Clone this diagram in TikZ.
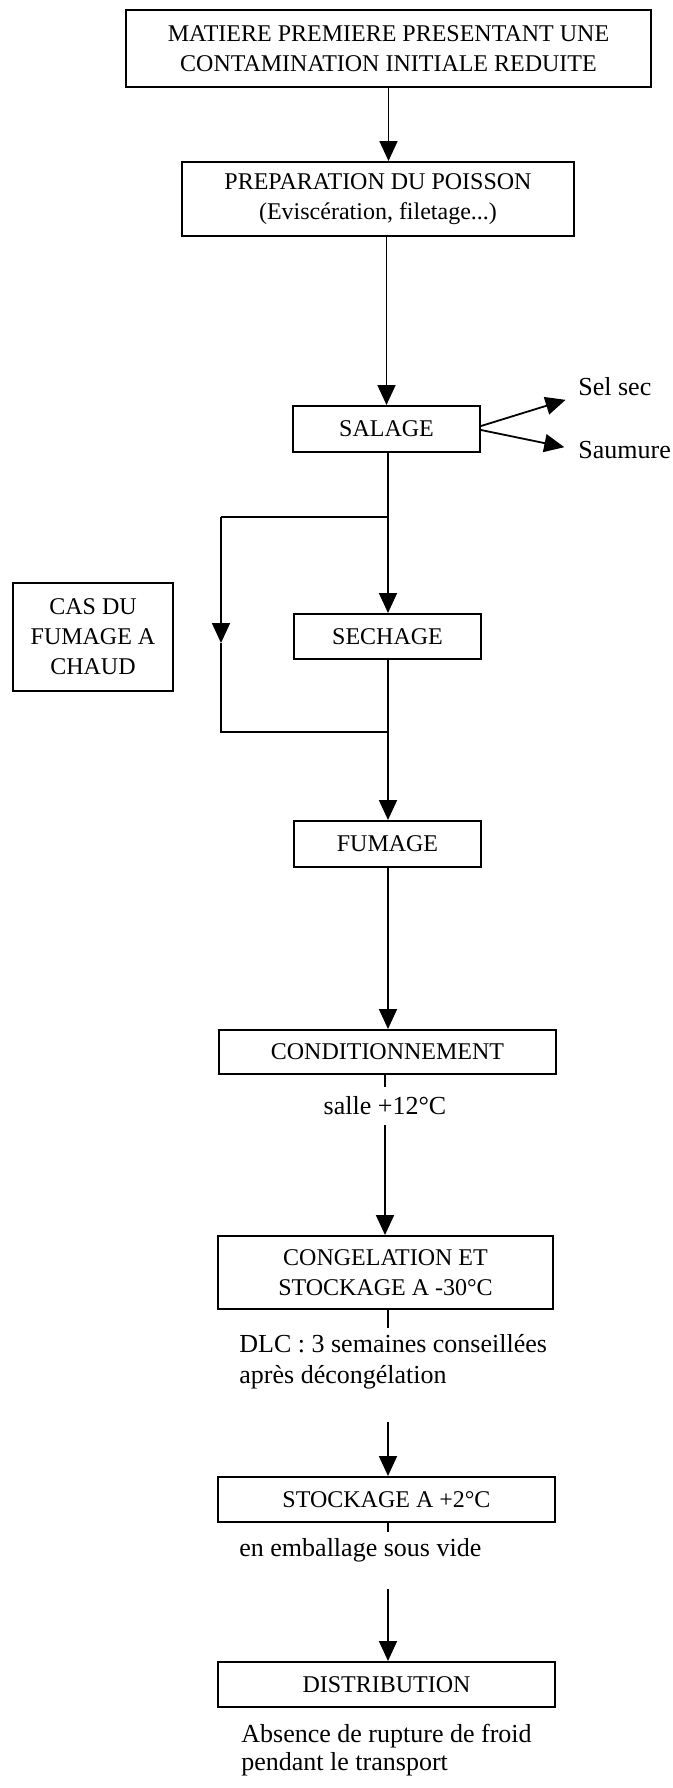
\documentclass[tikz,border=0pt]{standalone}
\usepackage{fontspec}
\setmainfont{Liberation Serif}
\usetikzlibrary{arrows.meta}
\begin{document}
\begin{tikzpicture}[x=0.5pt,y=-0.5pt,
  stepbox/.style={draw,line width=1pt,inner sep=0pt,align=center,
    font=\fontsize{12}{15}\selectfont},
  note/.style={inner sep=0pt,align=left,font=\fontsize{13}{15.5}\selectfont},
  link/.style={line width=0.9pt},
  arr/.style={link,-{Triangle[length=10pt,width=9pt]}}]
\useasboundingbox (0,0) rectangle (673,1788);

% process steps
\node[stepbox,minimum width=262.5pt,minimum height=38.5pt] (b1) at (388.5,48.5)
  {MATIERE PREMIERE PRESENTANT UNE\\CONTAMINATION INITIALE REDUITE};
\node[stepbox,minimum width=196pt,minimum height=37pt] (b2) at (378,199)
  {PREPARATION DU POISSON\\(Eviscération, filetage...)};
\node[stepbox,minimum width=93.5pt,minimum height=23pt] (sal) at (386.5,429) {SALAGE};
\node[stepbox,minimum width=93.5pt,minimum height=22.5pt] (sec) at (387.5,636.5) {SECHAGE};
\node[stepbox,minimum width=80pt,minimum height=54pt] (cas) at (93,637)
  {CAS DU\\FUMAGE A\\CHAUD};
\node[stepbox,minimum width=93.5pt,minimum height=23pt] (fum) at (387.5,844) {FUMAGE};
\node[stepbox,minimum width=168.5pt,minimum height=22pt] (cond) at (387.5,1052) {CONDITIONNEMENT};
\node[stepbox,minimum width=167.5pt,minimum height=36.5pt] (cong) at (385.5,1272.5)
  {CONGELATION ET\\STOCKAGE A -30°C};
\node[stepbox,minimum width=168.5pt,minimum height=22.5pt] (stk) at (386.5,1499.5) {STOCKAGE A +2°C};
\node[stepbox,minimum width=168.5pt,minimum height=22.5pt] (dist) at (386.5,1684.5) {DISTRIBUTION};

% salting variants
\node[note,anchor=west] (selsec) at (578,387) {Sel sec};
\node[note,anchor=west] (saum) at (578,450) {Saumure};

% notes under the steps
\node[note,minimum height=19pt] (salle) at (385,1106) {salle +12°C};
\node[note,anchor=west] (dlc) at (239,1361.5) {DLC : 3 semaines conseillées\\après décongélation};
\node[note,anchor=west] (emb) at (239,1550) {en emballage sous vide};
\node[note,anchor=west,font=\fontsize{13}{14}\selectfont] (abs) at (241,1750)
  {Absence de rupture de froid\\pendant le transport};

% junction points of the hot-smoking bypass and note gaps
\coordinate (brTop) at (388,517);
\coordinate (brBot) at (388,732);
\coordinate (lt) at (221,517);
\coordinate (lm) at (221,643);
\coordinate (lb) at (221,732);
\coordinate (dlcTop) at (388,1328);
\coordinate (dlcBot) at (388,1422);
\coordinate (embTop) at (388,1532);
\coordinate (embBot) at (388,1589);

% main flow
\draw[arr] (b1.south) -- (b1.south |- b2.north);
\draw[arr] (sal.north |- b2.south) -- (sal.north);
\draw[arr,shorten >=6.5pt] ([yshift=1.5pt]sal.east) -- ([yshift=-4.5pt]selsec.west);
\draw[arr,shorten >=7pt] ([yshift=-0.5pt]sal.east) -- (saum.west);
\draw[arr] (sal.south -| brTop) -- (sec.north -| brTop);
\draw[arr] (sec.south -| brBot) -- (fum.north -| brBot);
\draw[arr] (fum.south -| brBot) -- (cond.north -| brBot);
\draw[link] (cond.south -| salle.north) -- (salle.north);
\draw[arr] (salle.south) -- (cong.north -| salle.south);
\draw[link] (cong.south -| dlcTop) -- (dlcTop);
\draw[arr] (dlcBot) -- (stk.north -| dlcBot);
\draw[link] (stk.south -| embTop) -- (embTop);
\draw[arr] (embBot) -- (dist.north -| embBot);

% hot-smoking bypass around the drying step
\draw[link] (brTop) -- (lt);
\draw[arr] (lt) -- (lm);
\draw[link] (lm) -- (lb) -- (brBot);
\end{tikzpicture}
\end{document}
